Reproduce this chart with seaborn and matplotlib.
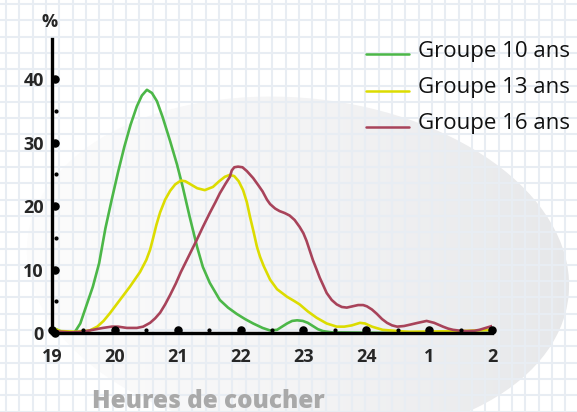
import numpy as np
import pandas as pd
import matplotlib.pyplot as plt
from matplotlib.patches import Ellipse
from matplotlib.colors import LinearSegmentedColormap
import seaborn as sns

# Bedtime distribution, x = clock hour (24 = midnight, 25 = 1h, 26 = 2h)
hours_10 = [19.00, 19.13, 19.29, 19.36, 19.45, 19.55, 19.65, 19.75, 19.85, 19.95,
            20.05, 20.15, 20.25, 20.35, 20.43, 20.51, 20.59, 20.67, 20.76, 20.88,
            20.99, 21.08, 21.19, 21.31, 21.40, 21.51, 21.67, 21.80, 21.94, 22.07,
            22.20, 22.35, 22.47, 22.58, 22.66, 22.74, 22.82, 22.90, 22.99, 23.07,
            23.15, 23.23, 23.31, 23.45, 24.50, 26.00]
pct_10 = [0.9, 0.3, 0.0, 0.1, 1.5, 4.4, 7.3, 11.0, 16.5, 21.0,
          25.3, 29.3, 32.8, 35.7, 37.4, 38.3, 37.8, 36.5, 34.0, 30.2,
          26.5, 23.0, 18.3, 13.5, 10.4, 7.9, 5.2, 4.0, 3.0, 2.2,
          1.5, 0.8, 0.4, 0.5, 1.0, 1.5, 1.9, 2.0, 1.9, 1.6,
          1.1, 0.6, 0.3, 0.1, 0.0, 0.0]

hours_13 = [19.00, 19.13, 19.40, 19.60, 19.72, 19.82, 19.92, 20.08, 20.24, 20.40,
            20.50, 20.56, 20.61, 20.66, 20.72, 20.80, 20.88, 20.96, 21.05, 21.12,
            21.19, 21.31, 21.43, 21.56, 21.66, 21.75, 21.83, 21.90, 21.97, 22.04,
            22.10, 22.15, 22.21, 22.26, 22.31, 22.37, 22.47, 22.58, 22.74, 22.86,
            22.94, 23.07, 23.21, 23.37, 23.53, 23.65, 23.77, 23.90, 23.98, 24.09,
            24.26, 24.50, 24.69, 25.50, 26.00]
pct_13 = [0.8, 0.3, 0.2, 0.4, 1.0, 1.9, 3.1, 5.2, 7.3, 9.6,
          11.5, 13.1, 15.0, 17.0, 19.0, 21.0, 22.4, 23.4, 24.0, 23.9,
          23.5, 22.8, 22.5, 23.0, 23.9, 24.6, 24.9, 24.7, 23.9, 22.5,
          20.6, 18.3, 15.8, 13.6, 12.0, 10.5, 8.4, 6.9, 5.7, 5.0,
          4.5, 3.4, 2.4, 1.5, 1.0, 1.0, 1.2, 1.6, 1.5, 1.0,
          0.5, 0.3, 0.2, 0.3, 0.5]

hours_16 = [19.00, 19.29, 19.49, 19.65, 19.81, 19.95, 20.05, 20.19, 20.35, 20.45,
            20.56, 20.64, 20.72, 20.80, 20.88, 20.97, 21.05, 21.18, 21.30, 21.40,
            21.51, 21.60, 21.67, 21.76, 21.83, 21.86, 21.90, 21.96, 22.03, 22.10,
            22.20, 22.28, 22.35, 22.42, 22.47, 22.55, 22.62, 22.70, 22.78, 22.86,
            22.94, 23.00, 23.05, 23.10, 23.15, 23.21, 23.26, 23.32, 23.37, 23.45,
            23.53, 23.61, 23.69, 23.78, 23.87, 23.95, 24.01, 24.09, 24.17, 24.25,
            24.33, 24.41, 24.49, 24.60, 24.69, 24.82, 24.96, 25.08, 25.22, 25.30,
            25.38, 25.50, 25.60, 25.72, 25.80, 25.90, 26.00]
pct_16 = [0.3, 0.1, 0.2, 0.5, 0.8, 1.0, 1.0, 0.8, 0.8, 1.0,
          1.6, 2.3, 3.2, 4.5, 6.0, 7.8, 9.6, 12.2, 14.6, 16.7,
          18.9, 20.6, 22.0, 23.5, 24.6, 25.6, 26.1, 26.2, 26.1, 25.5,
          24.4, 23.3, 22.3, 21.0, 20.3, 19.6, 19.2, 18.9, 18.5, 17.8,
          16.7, 15.7, 14.5, 13.0, 11.5, 10.0, 8.7, 7.4, 6.3, 5.2,
          4.5, 4.1, 4.0, 4.2, 4.4, 4.4, 4.2, 3.7, 3.0, 2.2,
          1.6, 1.2, 1.0, 1.1, 1.3, 1.6, 1.9, 1.6, 1.0, 0.7,
          0.5, 0.35, 0.3, 0.35, 0.5, 0.8, 1.1]

group_names = ["Groupe 10 ans", "Groupe 13 ans", "Groupe 16 ans"]
group_colors = ["#4cb748", "#dcdc00", "#a8435a"]
tick_hours = [19, 20, 21, 22, 23, 24, 25, 26]
tick_labels = ["19", "20", "21", "22", "23", "24", "1", "2"]
pct_ticks = [0, 10, 20, 30, 40]
pct_half_ticks = [5, 15, 25, 35]

df = pd.concat([
    pd.DataFrame({"heure": hours_10, "pct": pct_10, "groupe": group_names[0]}),
    pd.DataFrame({"heure": hours_13, "pct": pct_13, "groupe": group_names[1]}),
    pd.DataFrame({"heure": hours_16, "pct": pct_16, "groupe": group_names[2]}),
])

sns.set_style("white")
plt.rcParams["font.family"] = ["Open Sans", "DejaVu Sans"]

W, H = 577, 412
fig = plt.figure(figsize=(W / 100, H / 100), dpi=100)

# background: graph paper + grey ellipse with gradient (pixel coords)
bg = fig.add_axes([0, 0, 1, 1])
grid_col = "#e8edf3"
bg.vlines(np.arange(6.1, W, 13.31), 0, H, color=grid_col, lw=1.5)
bg.hlines(np.arange(4, H, 16.3), 0, W, color=grid_col, lw=1.5)

ell = Ellipse((298, 268), 544, 340, angle=6, facecolor="none", edgecolor="none")
bg.add_patch(ell)
bg_cmap = LinearSegmentedColormap.from_list("bg", ["#fdfdfd", "#f4f4f5", "#e6e7e9"])
img = bg.imshow(np.linspace(0, 1, 256)[None, :], cmap=bg_cmap, aspect="auto",
                extent=(20, 580, 460, 80), interpolation="bilinear")
img.set_clip_path(ell)
bg.set_xlim(0, W)
bg.set_ylim(H, 0)
bg.axis("off")

# main chart
ax = fig.add_axes([52 / W, 1 - 333 / H, 440 / W, (333 - 39) / H])
ax.patch.set_alpha(0)
sns.lineplot(data=df, x="heure", y="pct", hue="groupe", hue_order=group_names,
             palette=group_colors, estimator=None, lw=1.9, legend=False, ax=ax,
             solid_joinstyle="round", solid_capstyle="round")
ax.set_xlim(19, 26)
ax.set_ylim(0, 46.3)
sns.despine(ax=ax)
for side in ["left", "bottom"]:
    ax.spines[side].set_linewidth(2.4)
    ax.spines[side].set_color("black")
    ax.spines[side].set_zorder(6)

ax.set_xticks(tick_hours, tick_labels)
ax.set_yticks(pct_ticks)
ax.tick_params(axis="x", length=0, labelsize=13, pad=11)
ax.tick_params(axis="y", length=0, labelsize=13, pad=6)
for lbl in ax.get_xticklabels() + ax.get_yticklabels():
    lbl.set_fontweight("bold")
ax.set_xlabel("")
ax.set_ylabel("")

# dot tick marks
ax.scatter(tick_hours, [0.4] * len(tick_hours), s=26, color="black", clip_on=False, zorder=7)
ax.scatter(np.array(tick_hours[:-1]) + 0.5, [0.4] * (len(tick_hours) - 1), s=4,
           color="black", clip_on=False, zorder=7)
ax.scatter([19.05] * len(pct_ticks), pct_ticks, s=26, color="black", clip_on=False, zorder=7)
ax.scatter([19.06] * len(pct_half_ticks), pct_half_ticks, s=4, color="black",
           clip_on=False, zorder=7)

fig.text(50 / W, 1 - 22 / H, "%", ha="center", va="center", fontsize=13, fontweight="bold")

# legend drawn by hand
for i, (name, col) in enumerate(zip(group_names, group_colors)):
    y = 54.3 + 36.2 * i
    bg.plot([366, 409], [y, y], color=col, lw=1.8)
    bg.text(418, y + 2.5, name, fontsize=16, va="baseline", ha="left", color="#111111")

bg.text(92, 407.5, "Heures de coucher", fontsize=17.5, fontweight="heavy",
        color="#a9a9a9", va="baseline", ha="left")

fig.savefig("out.png", dpi=100)
